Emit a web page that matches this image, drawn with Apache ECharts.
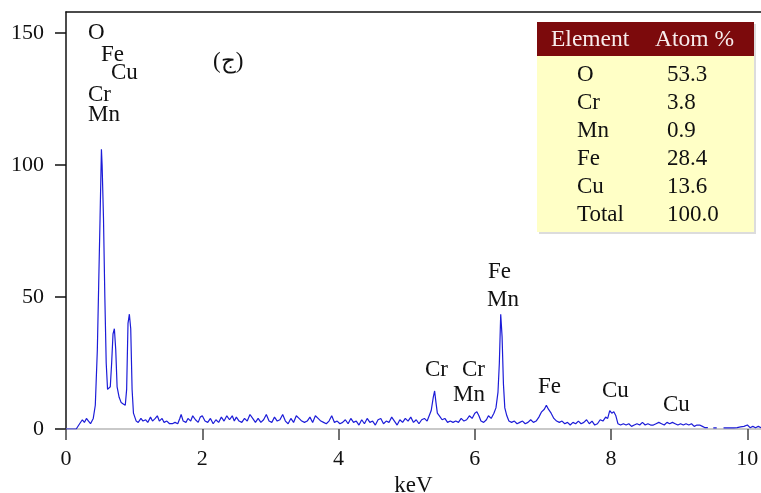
<!DOCTYPE html>
<html>
<head>
<meta charset="utf-8">
<script src="https://cdn.jsdelivr.net/npm/echarts@6/dist/echarts.min.js"></script>
<style>html,body{margin:0;padding:0;background:#fff;overflow:hidden}#c{width:761px;height:493px}</style>
</head>
<body>
<div id="c"></div>
<script>
// ---- data ----
const keV = [0,0.05,0.1,0.15,0.17,0.2,0.24,0.27,0.3,0.33,0.36,0.4,0.43,0.46,0.48,0.5,0.52,0.53,0.55,0.57,0.59,0.61,0.63,0.65,0.67,0.69,0.71,0.73,0.75,0.78,0.81,0.84,0.87,0.89,0.91,0.93,0.95,0.97,0.99,1.01,
1.03,1.06,1.1,1.13,1.17,1.2,1.24,1.27,1.31,1.34,1.37,1.41,1.44,1.48,1.52,1.56,1.6,1.64,1.67,1.69,1.72,1.76,1.79,1.83,1.86,1.9,1.94,1.97,2.0,2.04,2.08,2.12,2.16,2.2,2.24,2.28,2.32,2.36,2.4,2.44,2.47,2.5,2.54,2.58,2.62,2.66,2.7,2.74,2.78,2.82,2.86,2.9,2.94,2.98,3.02,3.06,3.1,3.14,3.18,3.22,3.26,3.3,3.34,3.38,3.42,3.46,3.5,3.54,3.58,3.62,3.66,3.7,3.74,3.78,3.82,3.86,3.9,3.94,3.98,4.02,4.06,4.1,4.14,4.18,4.22,4.26,4.3,4.34,4.38,4.42,4.46,4.5,4.54,4.58,4.62,4.66,4.7,4.74,4.78,4.82,4.86,4.9,4.94,4.98,5.02,5.06,5.1,5.14,5.18,5.22,5.26,5.3,5.33,5.36,5.39,5.41,5.43,5.45,5.48,5.52,5.56,5.6,5.64,5.68,5.72,5.76,5.8,5.84,5.88,5.92,5.96,6.0,6.03,6.06,6.09,6.13,6.17,6.2,6.24,6.28,6.31,6.34,6.36,6.38,6.4,6.42,6.44,6.47,6.5,6.54,6.58,6.62,6.66,6.7,6.74,6.78,6.82,6.86,6.9,6.94,6.98,7.02,7.05,7.08,7.12,7.16,7.2,7.24,7.28,7.32,7.36,7.4,7.44,7.48,7.52,7.56,7.6,7.64,7.68,7.72,7.76,7.8,7.84,7.88,7.92,7.95,7.98,8.01,8.04,8.07,8.1,8.14,8.18,8.22,8.26,8.3,8.34,8.38,8.42,8.46,8.5,8.54,8.58,8.62,8.66,8.7,8.74,8.78,8.82,8.86,8.9,8.94,8.98,9.02,9.06,9.1,9.14,9.18,9.22,9.26,9.3,9.34,9.38,9.42,9.45,9.5,9.55,9.6,9.65,9.7,9.75,9.8,9.85,9.9,9.95,10.0,10.04,10.08,10.12,10.16,10.2];
const counts = [0,0,0,0,0.5,2,3.5,2.5,4,3,2,4,9,30,55,80,106,100,80,50,25,15,14.5,16,25,36,38,30,16,12,10,9.5,9,15,40,43.5,38,15,6,4.5,
3,2.5,4,3,3.5,2.5,4.5,3,4,5,3,4,2.5,3,2,2,2.5,2,4,5.5,3,2.5,4,3,5,3.5,2.5,4.5,5,3,2.5,4,2,3.5,2.5,4.5,3,5,3.5,5,3,4.5,3,2.5,4,3,5.5,4,2.5,4,2.5,3.5,5.5,3,2.5,4.5,3,3.5,5.5,3,2,4,2.5,5,4,3,2.5,3,4.5,2.5,5,4,3,2.5,2,3,5,2.5,3,2,2.5,3.5,2,4,2.5,3,1.5,3.5,2,4,2.5,3,1.5,3.5,4,2,3,2.5,4.5,3,1.5,3.5,2.5,4,3,4.5,2.5,3.5,2,3.5,4,3,5,7,12,14.4,10,6,5,3.5,4,2.5,3,2.5,3,2.5,4,3,3.5,5,4,6,6.5,5,3,2.5,3.5,5,4,6,8,14,25,43.5,35,17,8,5,3,2.5,3,2,2.5,3,2,2.5,3.5,2.5,3,4.5,6.5,7.5,9,7.5,6,4,3,2.5,3,2,2.5,1.5,2.5,2,3,2,2.5,3.5,2,3,1.5,2,3.5,3,4.5,4,7,6,6.5,5,2,1.5,2,1.5,2,1,1.5,2,1.5,2.5,1.5,2,1.5,1.5,2,2.5,2,1.5,2.5,2,2.5,2,1.5,2,1.5,2,1.5,2,1,1.5,1.5,1,0.5,0.5,null,0.4,0.4,null,0.4,0.4,0.4,0.4,0.5,0.8,1,1.5,0.5,1,0.5,1,0.5];
const xTicks = [0,2,4,6,8,10];
const yTicks = [0,50,100,150];
const peakLabels = ['O','Fe','Cu','Cr','Mn','Fe','Mn','Cr','Cr','Mn','Fe','Cu','Cu'];
const panelTag = '(ج)';
const tableHeader = ['Element','Atom %'];
const tableElements = ['O','Cr','Mn','Fe','Cu','Total'];
const tableAtomPct = ['53.3','3.8','0.9','28.4','13.6','100.0'];

// ---- chart ----
const FONT = '"Liberation Serif","Times New Roman",serif';
const seriesData = keV.map((k,i)=>[k,counts[i]]);
const labelPos = [[88,33],[101,55],[111,73],[88,95],[88,115],[488,272],[487,300],[425,370],[462,370],[453,395],[538,387],[602,391],[663,405]];
const graphics = [];
peakLabels.forEach((t,i)=>{
  graphics.push({type:'text',x:labelPos[i][0],y:labelPos[i][1],z:10,
    style:{text:t,font:'23px '+FONT,fill:'#111',textVerticalAlign:'middle'}});
});
graphics.push({type:'text',x:213,y:62,z:10,style:{text:panelTag,font:'23px '+FONT,fill:'#111',textVerticalAlign:'middle'}});
// table
const TX=537, TY=22, TW=217, HH=34, BH=176;
graphics.push({type:'rect',shape:{x:TX+2,y:TY+2,width:TW,height:HH+BH},style:{fill:'#dcdcdc'},z:5});
graphics.push({type:'rect',shape:{x:TX,y:TY,width:TW,height:HH},style:{fill:'#7c0a0c'},z:6});
graphics.push({type:'rect',shape:{x:TX,y:TY+HH,width:TW,height:BH},style:{fill:'#ffffc6'},z:6});
graphics.push({type:'text',x:551,y:40,z:7,style:{text:tableHeader[0],font:'23.5px '+FONT,fill:'#f7ecec',textVerticalAlign:'middle'}});
graphics.push({type:'text',x:655,y:40,z:7,style:{text:tableHeader[1],font:'23.5px '+FONT,fill:'#f7ecec',textVerticalAlign:'middle'}});
const rowY=[75,103,131,159,187,215];
tableElements.forEach((e,i)=>{
  graphics.push({type:'text',x:577,y:rowY[i],z:7,style:{text:e,font:'23px '+FONT,fill:'#111',textVerticalAlign:'middle'}});
  graphics.push({type:'text',x:667,y:rowY[i],z:7,style:{text:tableAtomPct[i],font:'23px '+FONT,fill:'#111',textVerticalAlign:'middle'}});
});

const chart = echarts.init(document.getElementById('c'),null,{renderer:'canvas'});
chart.setOption({
  animation:false,
  backgroundColor:'#fff',
  grid:{left:66,top:12,width:695,height:417,containLabel:false,outerBoundsMode:'none'},
  xAxis:[{
    type:'value',min:0,max:10.2,interval:2,position:'bottom',
    name:'keV',nameLocation:'middle',nameGap:42,
    nameTextStyle:{fontFamily:FONT,fontSize:23,color:'#111'},
    axisLine:{lineStyle:{color:'#b8b8b8',width:1.5}},
    axisTick:{show:true,length:11,inside:false,customValues:xTicks,lineStyle:{color:'#444',width:1.5}},
    axisLabel:{customValues:xTicks,fontFamily:FONT,fontSize:22,color:'#111',margin:19},
    splitLine:{show:false}
  },{
    type:'value',min:0,max:10.2,position:'top',
    axisLine:{show:true,lineStyle:{color:'#111',width:1.5}},
    axisTick:{show:false},axisLabel:{show:false},splitLine:{show:false}
  }],
  yAxis:{
    type:'value',min:0,max:158,interval:50,
    axisLine:{show:true,lineStyle:{color:'#111',width:1.5}},
    axisTick:{show:true,length:11,inside:false,customValues:yTicks,lineStyle:{color:'#111',width:1.5}},
    axisLabel:{customValues:yTicks,fontFamily:FONT,fontSize:22,color:'#111',margin:22},
    splitLine:{show:false}
  },
  series:[{
    type:'line',xAxisIndex:0,data:seriesData,showSymbol:false,symbol:'none',
    connectNulls:false,
    lineStyle:{color:'#1c1cd8',width:1.2},
    z:3
  }],
  graphic:graphics
});
</script>
</body>
</html>
